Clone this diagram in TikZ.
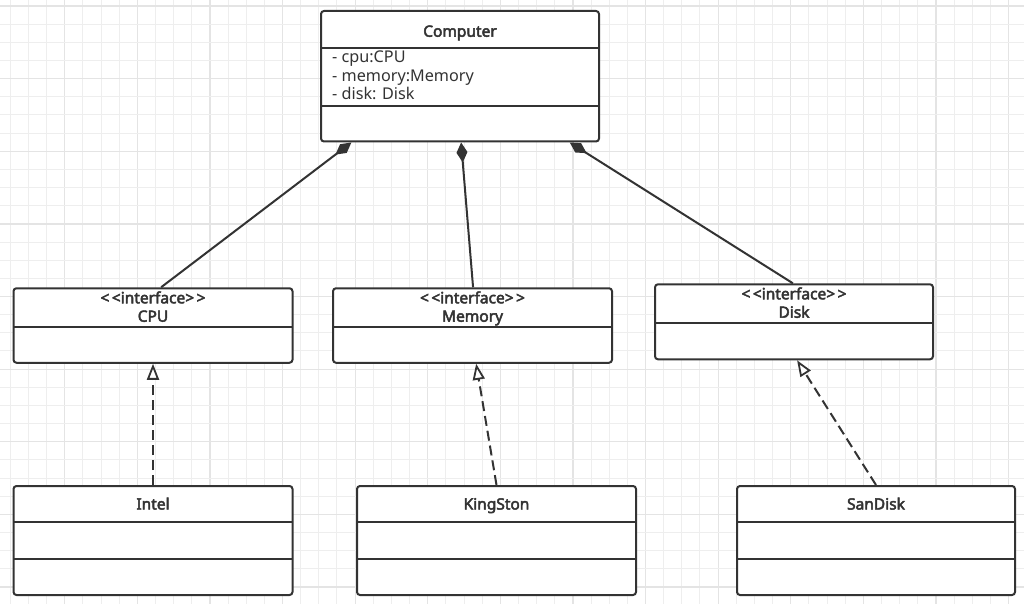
\documentclass[tikz,border=0pt]{standalone}
\usepackage{fontspec}
\setmainfont{Noto Sans}
\newfontfamily\boldface{Noto Sans}[FakeBold=3]
\usetikzlibrary{arrows.meta,calc}
\definecolor{ink}{HTML}{333333}
\definecolor{gridminor}{HTML}{EEEEEE}
\definecolor{gridmajor}{HTML}{E4E4E4}
\tikzset{
  umlbox/.style={draw=ink, line width=2pt, rounded corners=3pt, fill=white, inner sep=0pt},
  divider/.style={draw=ink, line width=2pt},
  title/.style={text=ink, font=\fontsize{15.5}{17}\boldface, inner sep=0pt, anchor=base},
  attr/.style={text=ink, font=\fontsize{16.2}{18}\selectfont, inner sep=0pt, anchor=base west},
  composition/.style={draw=ink, line width=2pt, {Diamond[length=20pt,width=11pt,fill=ink]}-},
  realization/.style={draw=ink, line width=2pt, dash pattern=on 10pt off 5pt, -{Triangle[open,length=16pt,width=12pt,fill=white,line width=1.8pt]}},
}
\begin{document}
\begin{tikzpicture}[x=1pt,y=-1pt]
\useasboundingbox[fill=white] (0,0) rectangle (1024,604);
% grid
\foreach \i in {0,...,56} {
  \pgfmathsetmacro{\gx}{10.25+18.15*\i}
  \pgfmathtruncatemacro{\m}{mod(\i,4)}
  \ifnum\m=3 \draw[gridmajor, line width=1.2pt] (\gx,0) -- (\gx,604);
  \else \draw[gridminor, line width=1pt] (\gx,0) -- (\gx,604); \fi
}
\foreach \j in {0,...,33} {
  \pgfmathsetmacro{\gy}{6.1+18.15*\j}
  \pgfmathtruncatemacro{\m}{mod(\j,4)}
  \ifnum\m=0 \draw[gridmajor, line width=1.2pt] (0,\gy) -- (1024,\gy);
  \else \draw[gridminor, line width=1pt] (0,\gy) -- (1024,\gy); \fi
}

% Computer
\node[umlbox, minimum width=278pt, minimum height=130.5pt] (comp) at (460,76.25) {};
\draw[divider] (321,47.7) -- (599,47.7);
\draw[divider] (321,106) -- (599,106);
\node[title] (compt) at (460,36.7) {Computer};
\node[attr] (a1) at (332,62.7) {- cpu:CPU};
\node[attr] (a2) at (332,81.3) {- memory:Memory};
\node[attr] (a3) at (332,100) {- disk: Disk};

% interfaces
\node[umlbox, minimum width=279pt, minimum height=74.5pt] (cpu) at (153,325.5) {};
\draw[divider] (13.5,326.7) -- (292.5,326.7);
\node[title] (cpus) at (153,303.3) {<\kern2.5pt<interface>\kern2.5pt>};
\node[title] (cpun) at (153,321.7) {CPU};

\node[umlbox, minimum width=279pt, minimum height=74.5pt] (mem) at (472.5,325.5) {};
\draw[divider] (333,326.7) -- (612,326.7);
\node[title] (mems) at (472.5,303.3) {<\kern2.5pt<interface>\kern2.5pt>};
\node[title] (memn) at (472.5,321.7) {Memory};

\node[umlbox, minimum width=278pt, minimum height=75pt] (disk) at (794,321.8) {};
\draw[divider] (655,322.7) -- (933,322.7);
\node[title] (disks) at (794,299.3) {<\kern2.5pt<interface>\kern2.5pt>};
\node[title] (diskn) at (794,317.7) {Disk};

% implementations
\node[umlbox, minimum width=279pt, minimum height=109pt] (intel) at (153,540.5) {};
\draw[divider] (13.5,522.3) -- (292.5,522.3);
\draw[divider] (13.5,558.7) -- (292.5,558.7);
\node[title] (intelt) at (153,509.5) {Intel};

\node[umlbox, minimum width=279pt, minimum height=109pt] (king) at (496.5,540.5) {};
\draw[divider] (357,522.3) -- (636,522.3);
\draw[divider] (357,558.7) -- (636,558.7);
\node[title] (kingt) at (496.5,509.5) {KingSton};

\node[umlbox, minimum width=278pt, minimum height=109pt] (sand) at (876,540.5) {};
\draw[divider] (737,522.3) -- (1015,522.3);
\draw[divider] (737,558.7) -- (1015,558.7);
\node[title] (sandt) at (876,509.5) {SanDisk};

% compositions
\draw[composition] ($(comp.south west)!0.112!(comp.south east)$) -- ($(cpu.north west)!0.529!(cpu.north east)$);
\draw[composition] ($(comp.south west)!0.504!(comp.south east)$) -- ($(mem.north west)!0.502!(mem.north east)$);
\draw[composition] ($(comp.south west)!0.892!(comp.south east)$) -- ($(disk.north west)!0.496!(disk.north east)$);

% realizations
\draw[realization] (intel.north) -- (cpu.south);
\draw[realization] (king.north) -- ($(mem.south west)!0.513!(mem.south east)$);
\draw[realization] (sand.north) -- ($(disk.south west)!0.511!(disk.south east)$);
\end{tikzpicture}
\end{document}
